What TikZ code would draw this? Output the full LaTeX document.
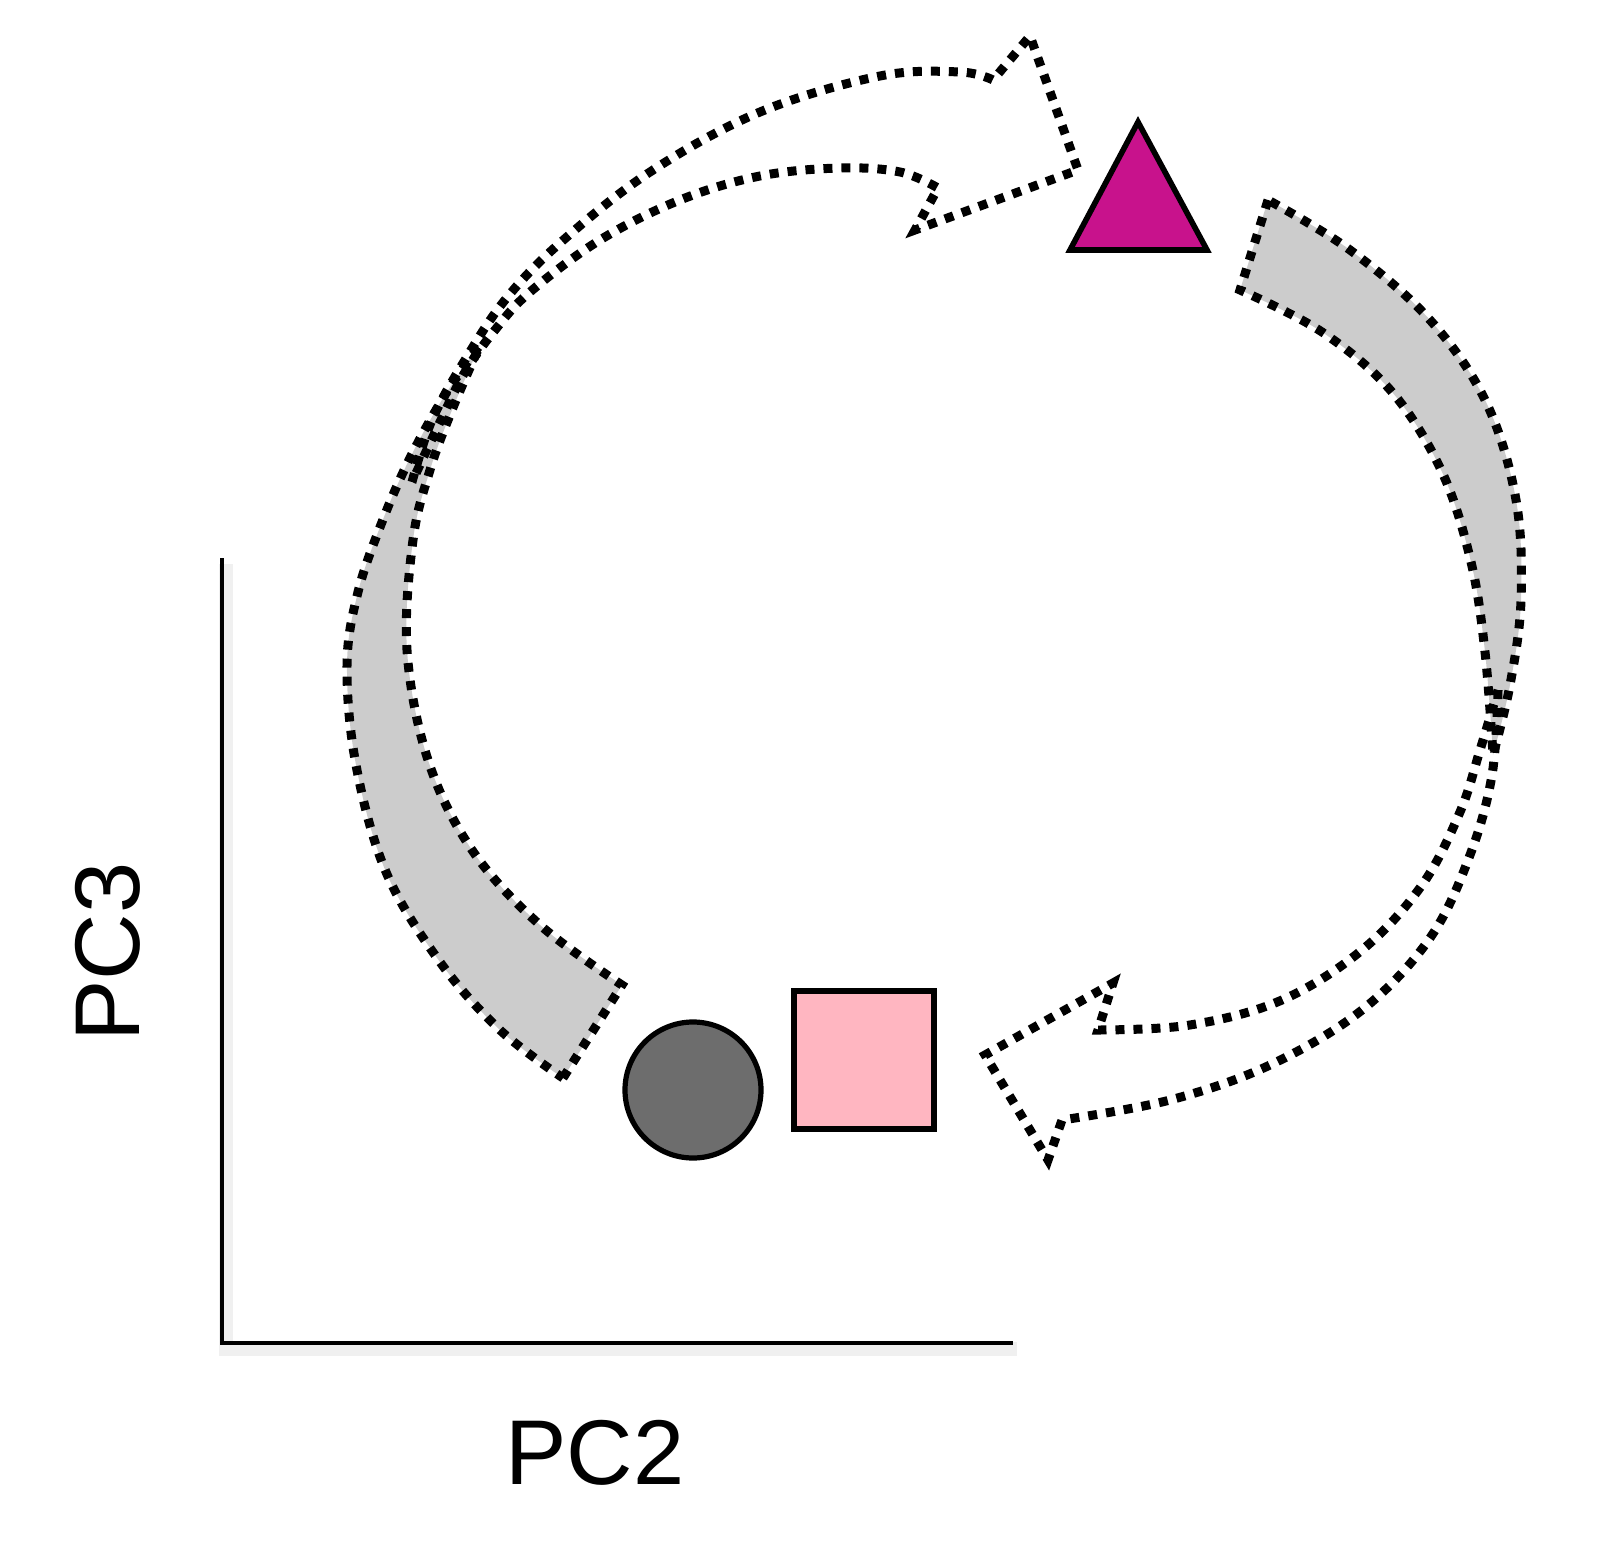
\documentclass[tikz,border=0pt]{standalone}
\usepackage{fontspec}
\setmainfont{Liberation Sans}
\usepackage{xcolor}
\usetikzlibrary{arrows,positioning}

\definecolor{bandgray}{HTML}{CCCCCC}
\definecolor{dotgray}{HTML}{6D6D6D}
\definecolor{softpink}{HTML}{FFB6C1}
\definecolor{magenta}{HTML}{C8128C}

\begin{document}
\begin{tikzpicture}[x=0.5pt,y=-0.5pt,
	dotband/.style={line width=4.5pt, dash pattern=on 4.5pt off 4.5pt, line join=miter},
	marker/.style={draw=black, line width=2.6pt, inner sep=0pt}]
\useasboundingbox (0,0) rectangle (1610,1556);

% axes
\coordinate (Orig) at (222,1343);
\coordinate (Top) at (222,558);
\coordinate (Right) at (1013,1343);
\draw[black!6, line width=7pt] ([shift={(4,6)}]Top) -- ([shift={(4,6)}]Orig) -- ([shift={(4,6)}]Right);
\draw[line width=2.2pt] (Top) -- (Orig) -- (Right);
\node[font=\fontsize{46}{50}\selectfont, inner sep=0pt](PCx) at (595,1453) {PC2};
\node[font=\fontsize{46}{50}\selectfont, inner sep=0pt, rotate=90](PCy) at (108,952) {PC3};

% gray bands
\draw[dotband, fill=bandgray] (563,1078) -- (622,985)
	-- plot[smooth, tension=0.6] coordinates {(622,985) (540,925) (472,850) (428,760) (407,650) (413,540) (430,470) (452,410) (480,345)}
	-- plot[smooth, tension=0.6] coordinates {(480,345) (445,395) (410,458) (382,522) (358,592) (347,665) (356,765) (386,872) (440,962) (500,1030) (563,1078)}
	-- cycle;
\draw[dotband, fill=bandgray] (1268,200) -- (1240,290)
	-- plot[smooth, tension=0.6] coordinates {(1240,290) (1322,332) (1392,392) (1442,472) (1471,562) (1485,652) (1493,755)}
	-- plot[smooth, tension=0.6] coordinates {(1493,755) (1510,685) (1521,600) (1516,500) (1486,402) (1430,320) (1350,250) (1268,200)}
	-- cycle;

% open arrows
\draw[dotband] (412,482)
	-- plot[smooth, tension=0.6] coordinates {(412,482) (432,420) (465,360) (505,300) (560,243) (650,172) (760,112) (880,76) (960,72) (993,80)}
	-- (1030,36) -- (1078,170) -- (915,230) -- (938,188)
	-- plot[smooth, tension=0.6] coordinates {(938,188) (900,172) (840,168) (760,176) (680,200) (600,240) (530,292) (495,330) (465,372) (440,422) (412,482)}
	-- cycle;
\draw[dotband] (1498,690)
	-- plot[smooth, tension=0.6] coordinates {(1498,690) (1492,775) (1470,855) (1430,938) (1362,1010) (1270,1065) (1170,1100) (1062,1120)}
	-- (1048,1160) -- (985,1055) -- (1113,983) -- (1098,1030)
	-- plot[smooth, tension=0.6] coordinates {(1098,1030) (1190,1025) (1282,1000) (1362,950) (1422,885) (1460,812) (1480,750) (1498,690)}
	-- cycle;

% markers
\node[marker, circle, fill=dotgray, minimum size=68pt](Ctrl) at (693,1090) {};
\node[marker, rectangle, fill=softpink, minimum width=70pt, minimum height=69pt](Sq) at (864,1060) {};
\coordinate (Tri) at (1138,205);
\draw[marker, line width=2.8pt, fill=magenta, line join=miter] (1070,250) -- (1207,250) -- (1138,122) -- cycle;
\end{tikzpicture}
\end{document}
